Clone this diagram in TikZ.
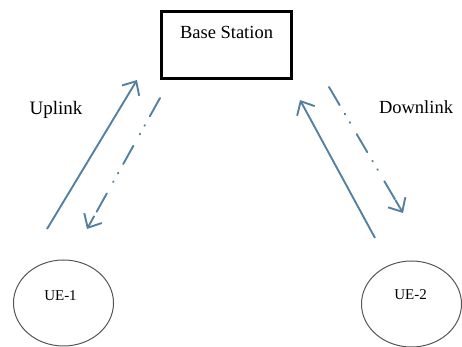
\documentclass[tikz,border=0pt]{standalone}
\usepackage{fontspec}
\setmainfont{Liberation Serif}
\usetikzlibrary{arrows.meta, positioning, shapes.geometric, calc}
\definecolor{lnkBlue}{HTML}{55809F}
\definecolor{ueGray}{HTML}{555555}

\begin{document}
\begin{tikzpicture}[x=1pt, y=1pt,
    station/.style={rectangle, draw=black, line width=3pt, minimum width=130pt, minimum height=67pt},
    ue/.style={ellipse, draw=ueGray, line width=1pt, minimum width=100pt, minimum height=86pt},
    solidlink/.style={draw=lnkBlue, line width=1.9pt, -{Straight Barb[length=11pt, width=20pt]}},
    dotlink/.style={draw=lnkBlue, line width=1.9pt, line cap=round, dash pattern=on 21pt off 10pt on 0.8pt off 9pt on 0.8pt off 13pt}]
  \useasboundingbox (0,0) rectangle (462,347);
  % base station and the two user equipments
  \node[station] (bs) at (226.5,302) {};
  \node[font=\fontsize{18.5}{20}\selectfont] (bstext) at ([yshift=-22pt]bs.north) {Base Station};
  \node[ue] (ue1) at (63.5,44) {};
  \node[font=\fontsize{15}{17}\selectfont] (ue1text) at ([shift={(-3pt,7pt)}]ue1.center) {UE-1};
  \node[ue] (ue2) at (411.5,43) {};
  \node[font=\fontsize{15}{17}\selectfont] (ue2text) at ([shift={(-1pt,9pt)}]ue2.center) {UE-2};
  % link ends
  \coordinate (upS) at (47,118);   \coordinate (upE) at (137,267);
  \coordinate (updS) at (160,249); \coordinate (updE) at (87,118);
  \coordinate (dnS) at (375,109);  \coordinate (dnE) at (300,247);
  \coordinate (dndS) at (329,260); \coordinate (dndE) at (403,134);
  \draw[solidlink] (upS) -- (upE);
  \draw[dotlink] (updS) -- ($(updE)!13pt!(updS)$);
  \draw[solidlink] ($(updE)!15pt!(updS)$) -- (updE);
  \draw[solidlink] (dnS) -- (dnE);
  \draw[dotlink] (dndS) -- ($(dndE)!13pt!(dndS)$);
  \draw[solidlink] ($(dndE)!15pt!(dndS)$) -- (dndE);
  % labels
  \node[font=\fontsize{19}{21}\selectfont] (uplbl) at (56,237) {Uplink};
  \node[font=\fontsize{18.5}{21}\selectfont] (dnlbl) at (416,240) {Downlink};
\end{tikzpicture}
\end{document}
